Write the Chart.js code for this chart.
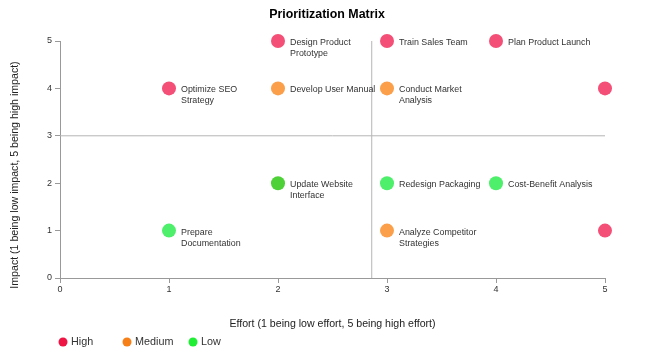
<!DOCTYPE html>
<html>
<head>
<meta charset="utf-8">
<script src="https://cdn.jsdelivr.net/npm/chart.js@4.4.0/dist/chart.umd.min.js"></script>
<style>
html,body{margin:0;padding:0;background:#fff;}
#wrap{width:650px;height:362px;position:relative;}
</style>
</head>
<body>
<div id="wrap"><canvas id="c" width="650" height="362"></canvas></div>
<script>
// ---- data ----
const taskNames = [
  ["Design Product", "Prototype"],
  ["Train Sales Team"],
  ["Plan Product Launch"],
  ["Optimize SEO", "Strategy"],
  ["Develop User Manual"],
  ["Conduct Market", "Analysis"],
  [],
  ["Update Website", "Interface"],
  ["Redesign Packaging"],
  ["Cost-Benefit Analysis"],
  ["Prepare", "Documentation"],
  ["Analyze Competitor", "Strategies"],
  []
];
const effort = [2, 3, 4, 1, 2, 3, 5, 2, 3, 4, 1, 3, 5];
const impact = [5, 5, 5, 4, 4, 4, 4, 2, 2, 2, 1, 1, 1];
const priority = ["High","High","High","High","Medium","Medium","High","Low","Low","Low","Low","Medium","High"];
const pointColorOverride = [null,null,null,null,null,null,null,"#4dd137",null,null,null,null,null];
const impactThreshold = 3;
const effortThreshold = 2.86;
const legendLabels = ["High", "Medium", "Low"];
const xTicks = [0,1,2,3,4,5];
const yTicks = [0,1,2,3,4,5];

// ---- styles ----
const pointColors = {High: "#f44f76", Medium: "#fb9f4b", Low: "#4def6b"};
const legendColors = {High: "#ee1443", Medium: "#f77f17", Low: "#1fee34"};

const points = effort.map((x, i) => ({x: x, y: impact[i], name: taskNames[i]}));
const bg = points.map((p, i) => pointColorOverride[i] || pointColors[priority[i]]);

const labelPlugin = {
  id: 'labels',
  afterDatasetsDraw(chart) {
    const ctx = chart.ctx;
    const xs = chart.scales.x, ys = chart.scales.y;
    ctx.save();
    ctx.font = '8.9px "Liberation Sans", Arial, sans-serif';
    ctx.fillStyle = '#333';
    ctx.textBaseline = 'middle';
    ctx.textAlign = 'left';
    points.forEach(p => {
      const px = xs.getPixelForValue(p.x), py = ys.getPixelForValue(p.y);
      p.name.forEach((line, k) => ctx.fillText(line, px + 12, py + 1.5 + k * 11));
    });
    ctx.restore();
  },
  afterDraw(chart) {
    const ctx = chart.ctx;
    const ca = chart.chartArea;
    ctx.save();
    // title
    ctx.fillStyle = '#000';
    ctx.font = 'bold 12.4px "Liberation Sans", Arial, sans-serif';
    ctx.textAlign = 'center';
    ctx.textBaseline = 'middle';
    ctx.fillText('Prioritization Matrix', 327, 15);
    // x title
    ctx.fillStyle = '#222';
    ctx.font = '10.6px "Liberation Sans", Arial, sans-serif';
    ctx.fillText('Effort (1 being low effort, 5 being high effort)', (ca.left + ca.right) / 2, 324);
    // y title
    ctx.save();
    ctx.translate(15, 175);
    ctx.rotate(-Math.PI / 2);
    ctx.fillText('Impact (1 being low impact, 5 being high impact)', 0, 0);
    ctx.restore();
    // legend
    const lx = [63, 127, 193];
    ctx.font = '10.8px "Liberation Sans", Arial, sans-serif';
    ctx.textAlign = 'left';
    legendLabels.forEach((l, i) => {
      ctx.fillStyle = legendColors[l];
      ctx.beginPath();
      ctx.arc(lx[i], 342, 4.5, 0, Math.PI * 2);
      ctx.fill();
      ctx.fillStyle = '#333';
      ctx.fillText(l, lx[i] + 8, 342.5);
    });
    ctx.restore();
  }
};

new Chart(document.getElementById('c'), {
  type: 'scatter',
  data: {
    datasets: [
      {
        type: 'line',
        data: [{x: xTicks[0], y: impactThreshold}, {x: xTicks[xTicks.length - 1], y: impactThreshold}],
        borderColor: '#b5b5b5', borderWidth: 1, pointRadius: 0, fill: false, order: 2
      },
      {
        type: 'line',
        data: [{x: effortThreshold, y: yTicks[0]}, {x: effortThreshold, y: yTicks[yTicks.length - 1]}],
        borderColor: '#b5b5b5', borderWidth: 1, pointRadius: 0, fill: false, order: 2
      },
      {
        data: points,
        backgroundColor: bg,
        borderColor: bg,
        borderWidth: 0,
        pointRadius: 7,
        pointHoverRadius: 7,
        clip: false,
        order: 1
      }
    ]
  },
  options: {
    responsive: false,
    animation: false,
    events: [],
    layout: {padding: {top: 41, right: 45, bottom: 0, left: 0}},
    plugins: {legend: {display: false}, tooltip: {enabled: false}, title: {display: false}},
    scales: {
      x: {
        type: 'linear', min: 0, max: 5,
        afterFit(s) { s.height = 84; },
        afterBuildTicks(s) { s.ticks = xTicks.map(v => ({value: v})); },
        grid: {drawOnChartArea: false, drawTicks: true, tickLength: 5, color: '#999'},
        border: {color: '#999', width: 1},
        ticks: {color: '#333', font: {size: 9, family: '"Liberation Sans", Arial, sans-serif'}, padding: 1, maxRotation: 0}
      },
      y: {
        type: 'linear', min: 0, max: 5,
        afterFit(s) { s.width = 60; },
        afterBuildTicks(s) { s.ticks = yTicks.map(v => ({value: v})); },
        grid: {drawOnChartArea: false, drawTicks: true, tickLength: 5, color: '#999'},
        border: {color: '#999', width: 1},
        ticks: {color: '#333', font: {size: 9, family: '"Liberation Sans", Arial, sans-serif'}, padding: 3}
      }
    }
  },
  plugins: [labelPlugin]
});
</script>
</body>
</html>
